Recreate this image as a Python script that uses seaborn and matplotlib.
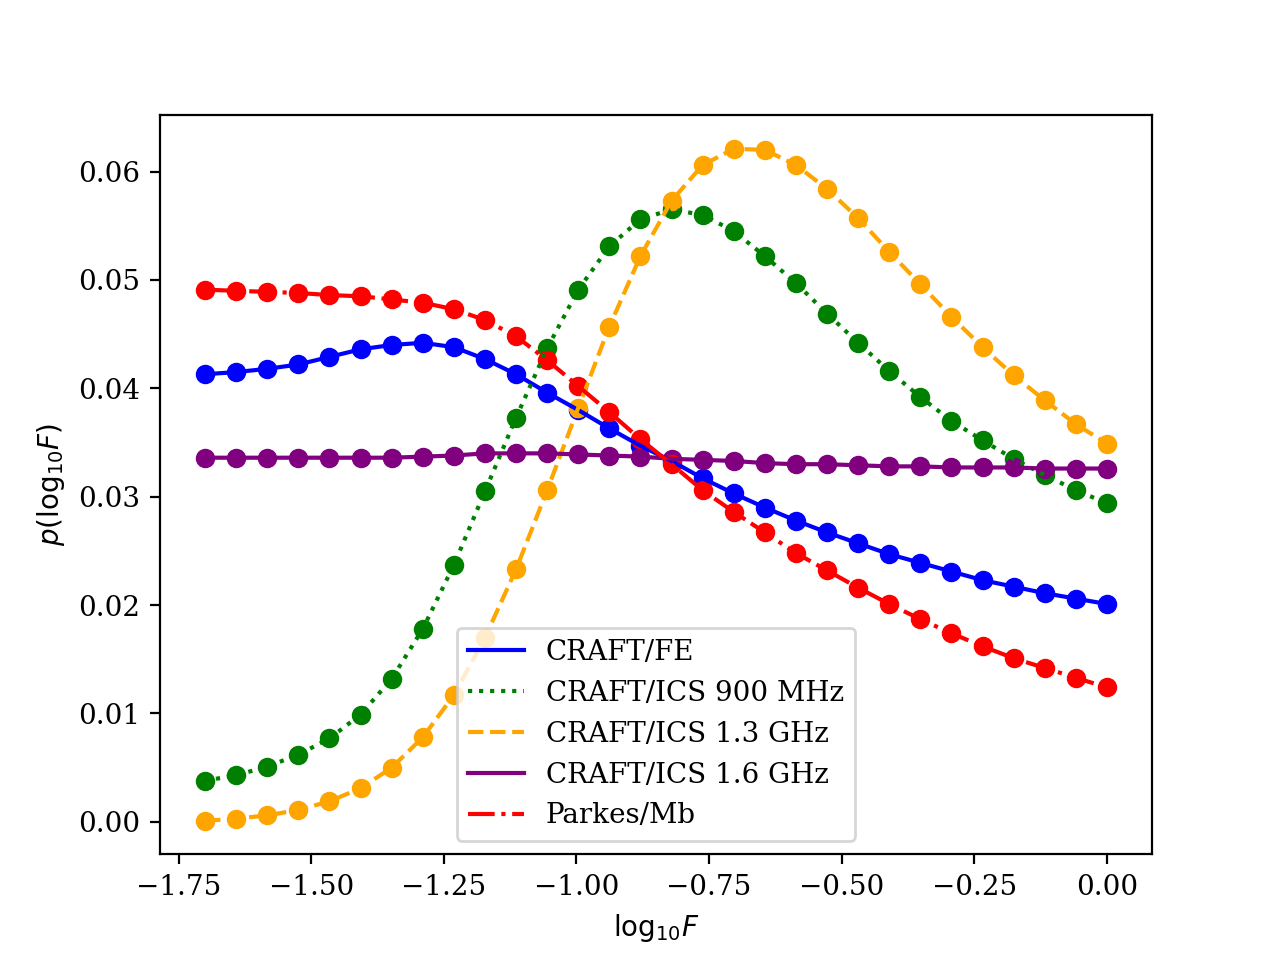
import numpy as np
import matplotlib
matplotlib.use("Agg")
import matplotlib.pyplot as plt
import seaborn as sns

plt.rcParams["font.family"] = "serif"
plt.rcParams["mathtext.fontset"] = "dejavusans"

# x grid: 30 points from -1.7 to 0
log_f = np.linspace(-1.7, 0.0, 30)

craft_fe = [0.0413, 0.0415, 0.0418, 0.0422, 0.0429, 0.0436, 0.0440, 0.0442, 0.0438, 0.0427,
            0.0413, 0.0396, 0.0380, 0.0363, 0.0347, 0.0333, 0.0317, 0.0303, 0.0290, 0.0278,
            0.0267, 0.0257, 0.0247, 0.0239, 0.0231, 0.0223, 0.0217, 0.0211, 0.0206, 0.0201]

craft_ics_900 = [0.0038, 0.0043, 0.0051, 0.0062, 0.0077, 0.0099, 0.0132, 0.0178, 0.0237, 0.0305,
                 0.0373, 0.0437, 0.0491, 0.0531, 0.0556, 0.0565, 0.0560, 0.0545, 0.0522, 0.0497,
                 0.0469, 0.0442, 0.0416, 0.0392, 0.0370, 0.0352, 0.0335, 0.0320, 0.0306, 0.0294]

craft_ics_13 = [0.0001, 0.0003, 0.0006, 0.0011, 0.0019, 0.0031, 0.0050, 0.0078, 0.0117, 0.0170,
                0.0233, 0.0306, 0.0382, 0.0457, 0.0522, 0.0573, 0.0606, 0.0621, 0.0620, 0.0606,
                0.0584, 0.0557, 0.0526, 0.0496, 0.0466, 0.0438, 0.0412, 0.0389, 0.0367, 0.0349]

craft_ics_16 = [0.0336, 0.0336, 0.0336, 0.0336, 0.0336, 0.0336, 0.0336, 0.0337, 0.0338, 0.0340,
                0.0340, 0.0340, 0.0339, 0.0338, 0.0337, 0.0335, 0.0334, 0.0333, 0.0331, 0.0330,
                0.0330, 0.0329, 0.0328, 0.0328, 0.0327, 0.0327, 0.0327, 0.0326, 0.0326, 0.0326]

parkes_mb = [0.0491, 0.0490, 0.0489, 0.0488, 0.0486, 0.0485, 0.0482, 0.0479, 0.0473, 0.0463,
             0.0448, 0.0426, 0.0402, 0.0378, 0.0353, 0.0330, 0.0306, 0.0286, 0.0267, 0.0248,
             0.0232, 0.0216, 0.0201, 0.0187, 0.0174, 0.0162, 0.0151, 0.0142, 0.0133, 0.0124]

labels = ["CRAFT/FE", "CRAFT/ICS 900 MHz", "CRAFT/ICS 1.3 GHz", "CRAFT/ICS 1.6 GHz", "Parkes/Mb"]
colors = ["blue", "green", "orange", "purple", "red"]
styles = ["-", ":", "--", "-", "-."]
series = [craft_fe, craft_ics_900, craft_ics_13, craft_ics_16, parkes_mb]

fig, ax = plt.subplots(figsize=(6.4, 4.8), dpi=200)

# dots first, then the connecting lines on top
for y, c in zip(series, colors):
    ax.plot(log_f, y, "o", color=c)

for y, c, ls, lab in zip(series, colors, styles, labels):
    sns.lineplot(x=log_f, y=y, color=c, linestyle=ls, label=lab, ax=ax)

ax.set_xlabel(r"$\mathrm{log}_{10}F$")
ax.set_ylabel(r"$p(\mathrm{log}_{10}F)$")
ax.legend(loc="lower center")

plt.savefig("out.png", dpi=200)
